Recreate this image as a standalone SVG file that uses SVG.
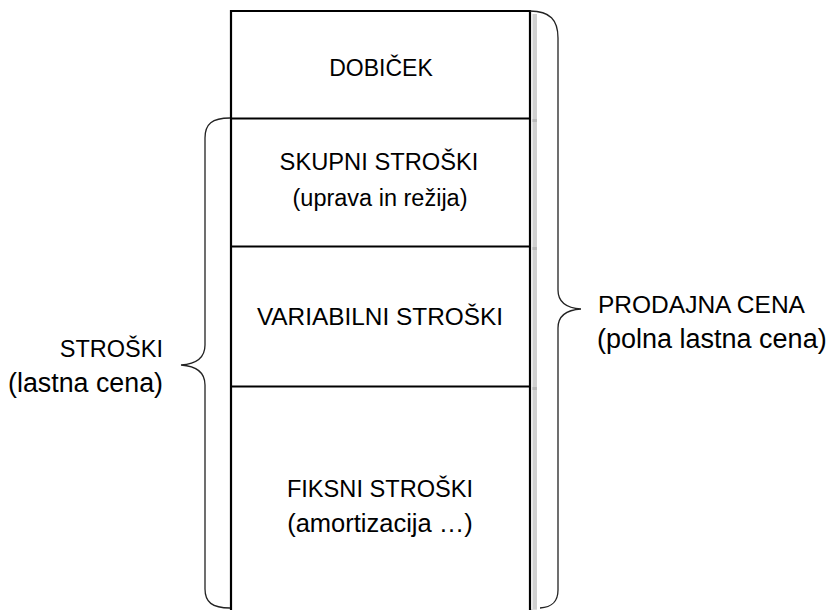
<svg xmlns="http://www.w3.org/2000/svg" width="831" height="610" viewBox="0 0 831 610">
<style>
.t{font-family:"Liberation Sans",Arial,sans-serif;font-size:23.5px;fill:#000}
.m{text-anchor:middle}
.e{text-anchor:end}
.box{fill:#fff;stroke:#000;stroke-width:2.2}
.div{stroke:#000;stroke-width:2.2}
.br{fill:none;stroke:#222;stroke-width:1.3}
</style>
<rect width="831" height="610" fill="#fff"/>
<g id="shadow">
<rect x="532.5" y="14" width="4.5" height="596" fill="#d0d0d0"/>
<rect x="532.5" y="119" width="4.5" height="3" fill="#b8b8b8"/>
<rect x="532.5" y="247" width="4.5" height="3" fill="#b8b8b8"/>
<rect x="532.5" y="387" width="4.5" height="3" fill="#b8b8b8"/>
<line x1="232" y1="609.5" x2="537" y2="609.5" stroke="#ddd" stroke-width="1"/>
</g>
<g id="column">
<path class="box" d="M231,611 L231,11 L530,11 L530,611"/>
</g>
<g id="connectors">
<line class="div" x1="231" y1="118.5" x2="530" y2="118.5"/>
<line class="div" x1="231" y1="246.5" x2="530" y2="246.5"/>
<line class="div" x1="231" y1="386.5" x2="530" y2="386.5"/>
</g>
<g id="dobicek"><text class="t m" x="381" y="76" style="font-size:23px">DOBIČEK</text></g>
<g id="skupni">
<text class="t m" x="379" y="170" style="font-size:23.7px">SKUPNI STROŠKI</text>
<text class="t m" x="380" y="206" style="font-size:23.5px">(uprava in režija)</text>
</g>
<g id="variabilni"><text class="t m" x="380" y="325" style="font-size:24.4px">VARIABILNI STROŠKI</text></g>
<g id="fiksni">
<text class="t m" x="380" y="497" style="font-size:23.6px">FIKSNI STROŠKI</text>
<text class="t m" x="380" y="532" style="font-size:25.5px">(amortizacija …)</text>
</g>
<g id="stroski">
<path class="br" d="M230,118 C212,118 205,124 205,138 L205,345 C205,358 196,364 181,365 C196,366 205,372 205,385 L205,589 C205,602 212,608 230,608"/>
<text class="t e" x="163" y="357" style="font-size:23.5px">STROŠKI</text>
<text class="t e" x="163" y="392" style="font-size:26.8px">(lastna cena)</text>
</g>
<g id="prodajna">
<path class="br" d="M530,11 C550,11 558,20 558,38 L558,290 C558,302 566,308 581,309 C566,310 558,316 558,328 L558,590 C558,602 552,607 540,608"/>
<text class="t" x="598" y="313" style="font-size:24.5px">PRODAJNA CENA</text>
<text class="t" x="597" y="348" style="font-size:27px">(polna lastna cena)</text>
</g>
</svg>
